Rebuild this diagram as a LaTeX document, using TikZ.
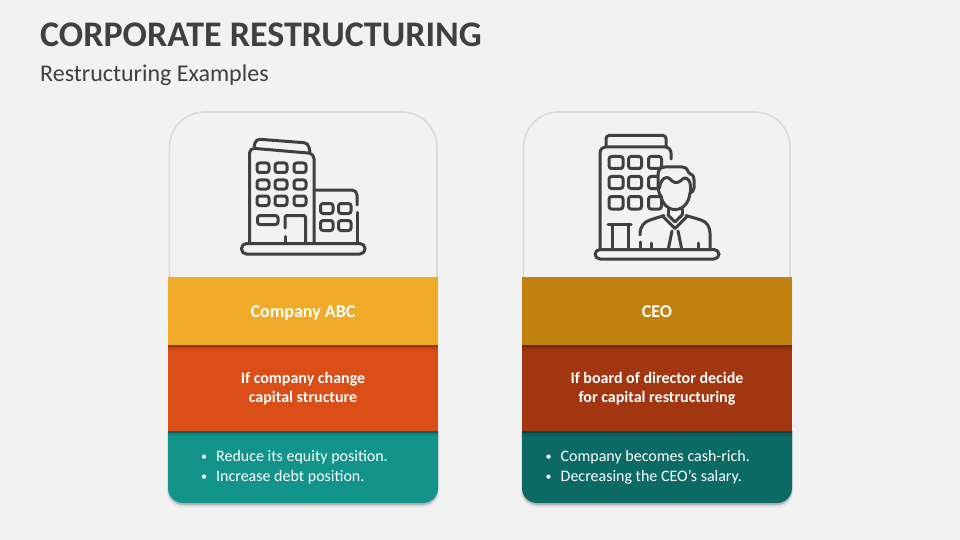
\documentclass[tikz,border=0pt]{standalone}
\usepackage{fontspec}
\setmainfont{Carlito}
\definecolor{bgc}{HTML}{F2F2F2}
\definecolor{inkc}{HTML}{404040}
\definecolor{cardc}{HTML}{D9D9D9}
\definecolor{yelc}{HTML}{F0AB28}
\definecolor{orac}{HTML}{DC4E18}
\definecolor{teac}{HTML}{12948A}
\definecolor{ochc}{HTML}{C0810F}
\definecolor{rusc}{HTML}{A23611}
\definecolor{dtec}{HTML}{0C6A64}
\tikzset{
  x=1pt,y=-1pt,
  cardbox/.style={draw=cardc,line width=1.6pt,fill=bgc,rounded corners=35pt},
  iconline/.style={draw=inkc,line width=3pt,line cap=round,line join=round},
  win/.style={iconline,rounded corners=2.5pt},
  bandhead/.style={inner sep=0pt,outer sep=0pt,anchor=base,text=white,align=center,font=\fontsize{18}{20}\selectfont\bfseries},
  band/.style={inner sep=0pt,outer sep=0pt,text=white,align=center,font=\fontsize{16}{19}\selectfont\bfseries},
  bullets/.style={inner sep=0pt,text=white,align=left,anchor=west,font=\fontsize{16}{20}\selectfont},
  titletext/.style={inner sep=0pt,anchor=base west,text=inkc,font=\fontsize{36}{40}\selectfont\bfseries},
  subtext/.style={inner sep=0pt,anchor=base west,text=inkc,font=\fontsize{24}{28}\selectfont},
}
\newcommand{\softshade}[3]{%
  \fill[black,opacity=.30] (#1,#2) rectangle (#3,#2+1.5);
  \fill[black,opacity=.17] (#1,#2+1.5) rectangle (#3,#2+3);
  \fill[black,opacity=.07] (#1,#2+3) rectangle (#3,#2+4.5);}
\newcommand{\bandstack}[4]{% left x, three colours
  \def\xl{#1}\pgfmathsetmacro{\xr}{#1+270}
  \begin{scope}
    \clip (\xl-4,431) rectangle (\xr+4,512);
    \fill[black,opacity=.08,rounded corners=16pt] (\xl-1,400) rectangle (\xr+1,507);
    \fill[black,opacity=.18,rounded corners=15pt] (\xl,400) rectangle (\xr,505);
    \fill[#4,rounded corners=15pt] (\xl,400) rectangle (\xr,503);
  \end{scope}
  \fill[#3] (\xl,345) rectangle (\xr,431);
  \softshade{\xl}{431}{\xr}
  \fill[#2] (\xl,277) rectangle (\xr,345);
  \softshade{\xl}{345}{\xr}
}
\newcommand{\bul}{{\fontsize{12}{20}\selectfont\raisebox{1pt}{•}}\hspace{9pt}}
\begin{document}
\begin{tikzpicture}
\useasboundingbox (0,0) rectangle (960,540);
\fill[bgc] (0,0) rectangle (960,540);
\node[titletext] (title) at (40,47) {CORPORATE RESTRUCTURING};
\node[subtext] (subtitle) at (40,82) {Restructuring Examples};

% cards
\draw[cardbox] (169.5,112) rectangle (437,340);
\draw[cardbox] (523.5,112) rectangle (790,340);

% left stack
\bandstack{168}{yelc}{orac}{teac}
\node[bandhead] (a1) at (303,317) {Company ABC};
\node[band] (a2) at (303,388.5) {If company change\\capital structure};
\node[bullets] (a3) at (201,467) {\bul Reduce its equity position.\\\bul Increase debt position.};

% right stack
\bandstack{522}{ochc}{rusc}{dtec}
\node[bandhead] (b1) at (657,317) {CEO};
\node[band] (b2) at (657,388.5) {If board of director decide\\for capital restructuring};
\node[bullets] (b3) at (545.5,467) {\bul Company becomes cash-rich.\\\bul Decreasing the CEO’s salary.};

% --- company icon ---
\draw[iconline,rounded corners=4pt] (254,147) -- (256,139) -- (308,143) -- (310,152);
\draw[iconline,rounded corners=5pt] (249.5,243) -- (249.5,148) -- (314,153.5) -- (314,243);
\draw[iconline,rounded corners=5pt] (314,190) -- (357,190) -- (357,205);
\draw[iconline] (357,212.5) -- (357,243);
\foreach \wx/\wb in {257/269,275/287,294/306}{
  \foreach \wy/\wz in {163/172.5,180/189,196/205.5}{
    \draw[win] (\wx,\wy) rectangle (\wb,\wz);
  }}
\draw[win] (257.5,215.5) rectangle (278,224.5);
\draw[iconline,rounded corners=1.5pt] (285,228) -- (285,215.5) -- (305.5,215.5) -- (305.5,243);
\draw[iconline] (285,236.5) -- (285,243);
\draw[win] (320.5,203.5) rectangle (333,213.5);
\draw[win] (338.5,203.5) rectangle (351,213.5);
\draw[win] (320.5,220.5) rectangle (333,230.5);
\draw[win] (338.5,220.5) rectangle (351,230.5);
\draw[iconline,fill=bgc,rounded corners=5pt] (241.5,243.5) rectangle (365,254);

% --- CEO icon ---
\draw[iconline,rounded corners=3pt] (606,147) -- (606,135.5) -- (666,135.5) -- (666,147);
\draw[iconline,rounded corners=6pt] (600,249) -- (600,147) -- (671,147) -- (671,159);
\foreach \wx/\wb in {609/623,628.5/641.5,648.5/661.5}{
  \foreach \wy/\wz in {156.5/168.5,176.5/188.5,196.5/209}{
    \draw[win] (\wx,\wy) rectangle (\wb,\wz);
  }}
\draw[iconline] (608,224.5) -- (631,224.5);
\draw[iconline] (612.5,224.5) -- (612.5,249);
\draw[iconline] (628,224.5) -- (628,249);
% head
\draw[iconline,fill=bgc] (658,183) -- (658,175) .. controls (658,170) and (660,167) .. (665,167)
  -- (682,167) .. controls (686,167) and (688,170) .. (689,173)
  .. controls (692,174) and (694,176) .. (694,180) -- (694,188)
  .. controls (694,191) and (692,192) .. (690,193)
  .. controls (689,202) and (684,209.5) .. (675,209.5)
  .. controls (667,209.5) and (662,203) .. (661,196)
  .. controls (659,194) and (658,190) .. (658,183) -- cycle;
\draw[iconline] (659.5,188) .. controls (660,182) and (663,177.5) .. (667,177.5)
  .. controls (670,177.5) and (671,181.5) .. (675,182.5)
  .. controls (680,183.5) and (682,178) .. (685,178)
  .. controls (688,178) and (690.5,182) .. (690.5,186) -- (690.5,193);
% shoulders and collar
\draw[iconline] (668,209) -- (668,215);
\draw[iconline] (682,209) -- (682,215);
\draw[iconline] (640,235) .. controls (640,226) and (644,222) .. (650,220) -- (664,215.5);
\draw[iconline] (686,215.5) -- (701,220) .. controls (707,222) and (710,227) .. (710,233) -- (710,249);
\draw[iconline] (640,242) -- (640,249);
\draw[iconline] (651,243) -- (651,249);
\draw[iconline] (698,243) -- (698,249);
\draw[iconline] (663,216.5) -- (675,228.5) -- (687,216.5);
\draw[iconline] (668,215) -- (675,222) -- (682,215);
\draw[iconline] (672,231) -- (668.5,248);
\draw[iconline] (678,231) -- (681.5,248);
\draw[iconline,fill=bgc,rounded corners=5pt] (595,249.5) rectangle (719,259);
\end{tikzpicture}
\end{document}
